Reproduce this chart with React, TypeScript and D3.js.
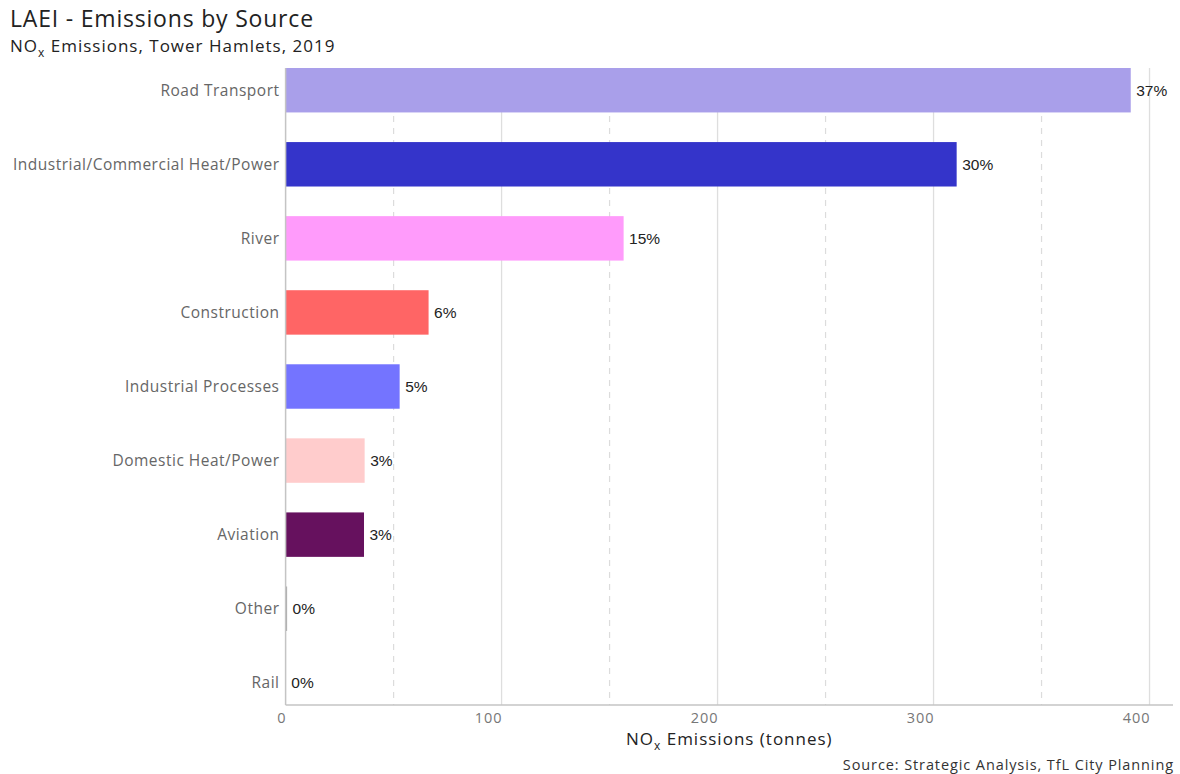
import React from "react";
import * as d3 from "d3";

const categories = [
  "Road Transport",
  "Industrial/Commercial Heat/Power",
  "River",
  "Construction",
  "Industrial Processes",
  "Domestic Heat/Power",
  "Aviation",
  "Other",
  "Rail",
];
const emissions = [391.3, 310.7, 156.5, 66.2, 52.8, 36.6, 36.3, 0.7, 0.1];
const barColors = [
  "#a99fea",
  "#3434ca",
  "#ff9bfb",
  "#ff6565",
  "#7474ff",
  "#ffcccc",
  "#66115e",
  "#aaaaaa",
  "#bbbbbb",
];
const majorTicks = [0, 100, 200, 300, 400];
const minorTicks = [50, 150, 250, 350];

const W = 1180;
const H = 774;
const FONT = "'Open Sans', Lato, sans-serif";
const LABEL_FONT = "'Liberation Sans', Arial, sans-serif";

export default function App() {
  const panelLeft = 285.6;
  const panelRight = 1173;
  const panelTop = 68;
  const panelBottom = 705;

  const maxV = d3.max(emissions) as number;
  const x = d3
    .scaleLinear()
    .domain([0, maxV * 1.05])
    .range([panelLeft, panelRight]);

  const y = d3
    .scaleBand<string>()
    .domain(categories)
    .range([panelTop, panelBottom])
    .paddingInner(0.4)
    .paddingOuter(0);

  const total = d3.sum(emissions);
  const data = categories.map((c, i) => ({
    cat: c,
    v: emissions[i],
    color: barColors[i],
    pct: Math.round((emissions[i] / total) * 100) + "%",
  }));

  return (
    <svg
      width={W}
      height={H}
      style={{ position: "absolute", left: 0, top: 0, background: "#fff" }}
    >
      <rect x={0} y={0} width={W} height={H} fill="#fff" />
      {/* titles */}
      <text x={10} y={27} fontFamily={FONT} fontSize={23} fill="#222" letterSpacing={0.8}>
        LAEI - Emissions by Source
      </text>
      <text x={10} y={52} fontFamily={FONT} fontSize={17} fill="#222" letterSpacing={1.0}>
        NO
        <tspan fontSize={12} dy={5}>
          x
        </tspan>
        <tspan dy={-5}> Emissions, Tower Hamlets, 2019</tspan>
      </text>

      {/* grid */}
      {minorTicks.map((t) => (
        <line
          key={"mi" + t}
          x1={x(t)}
          x2={x(t)}
          y1={panelTop}
          y2={panelBottom}
          stroke="#dcdcdc"
          strokeWidth={1.2}
          strokeDasharray="6,6"
        />
      ))}
      {majorTicks
        .filter((t) => t > 0)
        .map((t) => (
          <line
            key={"ma" + t}
            x1={x(t)}
            x2={x(t)}
            y1={panelTop}
            y2={panelBottom}
            stroke="#dedede"
            strokeWidth={1.3}
          />
        ))}

      {/* bars */}
      {data.map((d) => (
        <rect
          key={d.cat}
          x={x(0)}
          y={y(d.cat)}
          width={Math.max(0, x(d.v) - x(0))}
          height={y.bandwidth()}
          fill={d.color}
        />
      ))}

      {/* axes lines */}
      <line
        x1={panelLeft}
        x2={panelLeft}
        y1={panelTop}
        y2={panelBottom}
        stroke="#c4c4c4"
        strokeWidth={1.5}
      />
      <line
        x1={panelLeft}
        x2={panelRight}
        y1={panelBottom}
        y2={panelBottom}
        stroke="#c4c4c4"
        strokeWidth={1.5}
      />

      {/* value labels */}
      {data.map((d) => (
        <text
          key={"v" + d.cat}
          x={x(d.v) + 5.5}
          y={(y(d.cat) as number) + y.bandwidth() / 2}
          dy="0.35em"
          fontFamily={LABEL_FONT}
          fontSize={15.5}
          fill="#222"
        >
          {d.pct}
        </text>
      ))}

      {/* category labels */}
      {categories.map((c) => (
        <text
          key={"c" + c}
          x={279.5}
          y={(y(c) as number) + y.bandwidth() / 2}
          dy="0.35em"
          textAnchor="end"
          fontFamily={FONT}
          fontSize={15.5}
          fill="#666"
          letterSpacing={0.5}
        >
          {c}
        </text>
      ))}

      {/* x tick labels */}
      {majorTicks.map((t) => (
        <text
          key={"t" + t}
          x={x(t) + 1}
          y={723}
          textAnchor="end"
          fontFamily={FONT}
          fontSize={14.5}
          fill="#777"
          letterSpacing={1}
        >
          {t}
        </text>
      ))}

      {/* x axis title */}
      <text
        x={(panelLeft + panelRight) / 2}
        y={745}
        textAnchor="middle"
        fontFamily={FONT}
        fontSize={17}
        fill="#222"
        letterSpacing={1.0}
      >
        NO
        <tspan fontSize={12} dy={5}>
          x
        </tspan>
        <tspan dy={-5}> Emissions (tonnes)</tspan>
      </text>

      {/* source */}
      <text
        x={1174}
        y={770}
        textAnchor="end"
        fontFamily={FONT}
        fontSize={14.5}
        fill="#333"
        letterSpacing={0.9}
      >
        Source: Strategic Analysis, TfL City Planning
      </text>
    </svg>
  );
}
